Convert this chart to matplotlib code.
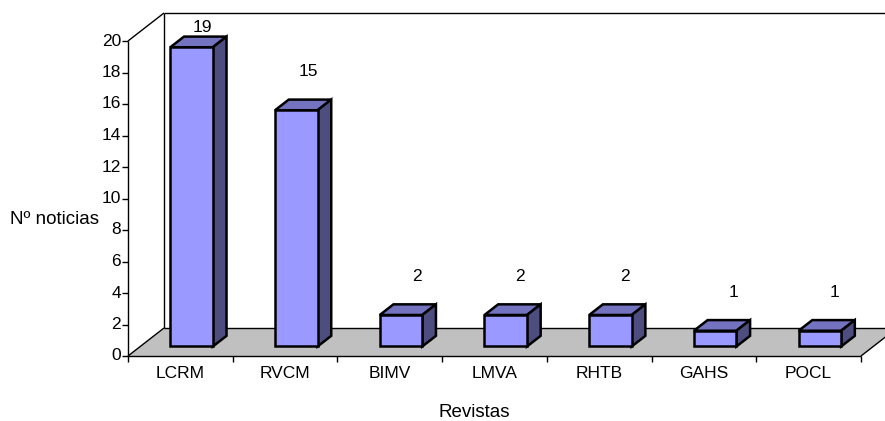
import matplotlib
matplotlib.use("Agg")
import matplotlib.pyplot as plt
from matplotlib.patches import Polygon

categories = ["LCRM", "RVCM", "BIMV", "LMVA", "RHTB", "GAHS", "POCL"]
values = [19, 15, 2, 2, 2, 1, 1]
yticks = list(range(0, 21, 2))

W, H = 885, 421
X0, X1, Y0, Y20 = 128, 861, 356, 41
plt.rcParams["font.family"] = ["Liberation Sans", "DejaVu Sans"]
fig = plt.figure(figsize=(W / 100, H / 100), dpi=100)
ax = fig.add_axes([X0 / W, 1 - Y0 / H, (X1 - X0) / W, (Y0 - Y20) / H])
ax.set_xlim(0, len(categories))
ax.set_ylim(0, 20)
ax.axis("off")

ux = (X1 - X0) / len(categories)   # px per category
uy = (Y0 - Y20) / 20               # px per value unit
DX, DY = 36 / ux, 28 / uy          # full floor depth in data units
FS = 12.5
FS_TITLE = 13.5
LW = 1.8
label_nudge_px = [-1, 0, 4, 2, 3, 7, 3]


def P(x, y, d):
    """Oblique projection: depth d in 0..1 shifts a point up and right."""
    return (x + d * DX, y + d * DY)


n = len(categories)
# walls and floor
ax.add_patch(Polygon([P(0, 0, 0), P(n, 0, 0), P(n, 0, 1), P(0, 0, 1)], closed=True,
                     fc="#C0C0C0", ec="none", clip_on=False, zorder=1))
line = dict(color="black", lw=1.0, clip_on=False, zorder=2, solid_capstyle="butt")
for a, b in [(P(0, 0, 1), P(0, 20, 1)), (P(0, 20, 1), P(n, 20, 1)), (P(0, 0, 1), P(n, 0, 1)),
             (P(0, 20, 0), P(0, 20, 1)), (P(0, 0, 0), P(0, 0, 1)), (P(n, 0, 0), P(n, 0, 1)),
             (P(0, 0, 0), P(n, 0, 0)), (P(0, 0, 0), P(0, 20, 0))]:
    ax.plot([a[0], b[0]], [a[1], b[1]], **line)

# ticks
for v in yticks:
    ax.plot([-6 / ux, 0], [v, v], **line)
    ax.text(-7 / ux, v, str(v), ha="right", va="center", fontsize=FS, clip_on=False)
for i in range(n + 1):
    ax.plot([i, i], [0, -6 / uy], **line)

# bars
BW = 42.5 / ux
D0, D1 = 0.34, 0.72
SHIFT = -1 / ux
for i, (c, v) in enumerate(zip(categories, values)):
    cx = i + 0.5 + SHIFT
    fx, fy = P(cx - BW / 2, 0, D0)
    ax.bar(fx, v, width=BW, bottom=fy, align="edge", color="#9999FF", edgecolor="black",
           linewidth=LW, zorder=5, clip_on=False)
    xl, xr = cx - BW / 2, cx + BW / 2
    ax.add_patch(Polygon([P(xl, v, D0), P(xr, v, D0), P(xr, v, D1), P(xl, v, D1)], closed=True,
                         fc="#7373C0", ec="black", lw=LW, clip_on=False, zorder=4))
    ax.add_patch(Polygon([P(xr, 0, D0), P(xr, v, D0), P(xr, v, D1), P(xr, 0, D1)], closed=True,
                         fc="#4D4D80", ec="black", lw=LW, clip_on=False, zorder=4))
    ax.text(i + 0.5, -18 / uy, c, ha="center", va="center", fontsize=FS, clip_on=False)
    ax.text(i + 0.5 + (23 + label_nudge_px[i]) / ux, min(v + 48 / uy, 20 + 14 / uy), str(v),
            ha="center", va="center", fontsize=FS, clip_on=False, zorder=6)

fig.text(474 / W, 1 - 417 / H, "Revistas", ha="center", va="baseline", fontsize=FS_TITLE)
fig.text(54 / W, 1 - 220 / H, "Nº noticias", ha="center", va="center", fontsize=FS_TITLE)
fig.savefig("out.png", dpi=100)
